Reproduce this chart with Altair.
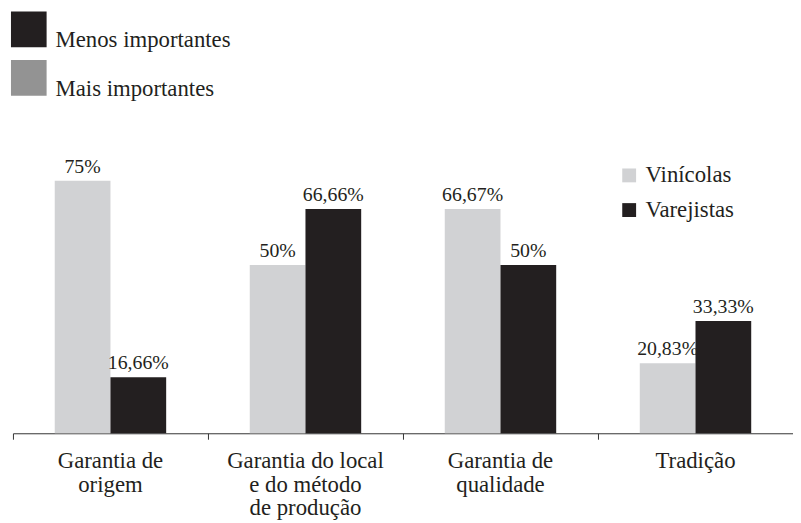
import altair as alt
import pandas as pd

categories = [
    "Garantia de\norigem",
    "Garantia do local\ne do método\nde produção",
    "Garantia de\nqualidade",
    "Tradição",
]
series = ["Vinícolas", "Varejistas"]
vinicolas = [75, 50, 66.67, 20.83]
varejistas = [16.66, 66.66, 50, 33.33]
series_colors = ["#d1d2d4", "#231f20"]

importance = ["Menos importantes", "Mais importantes"]
importance_colors = ["#231f20", "#939393"]


def fmt(v):
    return f"{v:g}".replace(".", ",") + "%"


rows = []
for c, a, b in zip(categories, vinicolas, varejistas):
    rows.append({"cat": c, "serie": series[0], "valor": a, "label": fmt(a)})
    rows.append({"cat": c, "serie": series[1], "valor": b, "label": fmt(b)})
df = pd.DataFrame(rows)
imp_df = pd.DataFrame({"imp": importance})

FONT = "Liberation Serif"
INK = "#231f20"

x_enc = alt.X(
    "cat:N",
    sort=categories,
    scale=alt.Scale(paddingInner=0, paddingOuter=0),
    axis=alt.Axis(
        title=None,
        labelAngle=0,
        bandPosition=0,
        labelExpr="split(datum.label, '\\n')",
        labelFont=FONT,
        labelFontSize=23,
        labelLineHeight=23.5,
        labelColor=INK,
        labelBaseline="top",
        labelPadding=11,
        labelLimit=400,
        labelOverlap=False,
        tickSize=6,
        tickColor="#333333",
        domainColor="#333333",
        domainWidth=1,
        tickWidth=1,
    ),
)
xo_enc = alt.XOffset(
    "serie:N", sort=series, scale=alt.Scale(paddingInner=0, paddingOuter=0.75)
)
y_enc = alt.Y("valor:Q", scale=alt.Scale(domain=[0, 100]), axis=None)

bars = (
    alt.Chart(df)
    .mark_bar()
    .encode(
        x=x_enc,
        xOffset=xo_enc,
        y=y_enc,
        color=alt.Color(
            "serie:N",
            scale=alt.Scale(domain=series, range=series_colors),
            legend=alt.Legend(
                title=None,
                orient="none",
                legendX=611,
                legendY=68,
                symbolType="square",
                symbolSize=196,
                symbolStrokeWidth=0,
                labelFont=FONT,
                labelFontSize=23,
                labelColor=INK,
                labelOffset=5,
                labelLimit=300,
                rowPadding=11,
                padding=0,
            ),
        ),
    )
)

labels = (
    alt.Chart(df)
    .mark_text(dy=-8, baseline="alphabetic", fontSize=20, font=FONT, color=INK)
    .encode(x=x_enc, xOffset=xo_enc, y=y_enc, text="label:N")
)

dummy = (
    alt.Chart(imp_df)
    .mark_square(opacity=0)
    .encode(
        color=alt.Color(
            "imp:N",
            scale=alt.Scale(domain=importance, range=importance_colors),
            legend=alt.Legend(
                title=None,
                orient="none",
                legendX=-2,
                legendY=-86,
                symbolType="square",
                symbolSize=1296,
                symbolOpacity=1,
                symbolStrokeWidth=0,
                labelFont=FONT,
                labelFontSize=23,
                labelColor=INK,
                labelBaseline="top",
                labelOffset=9,
                labelLimit=400,
                rowPadding=8,
                padding=0,
            ),
        )
    )
)

chart = (
    alt.layer(bars, labels, dummy)
    .resolve_scale(color="independent")
    .properties(
        width=788,
        height=340,
        padding={"left": 5, "top": 87, "right": 0, "bottom": 86},
        autosize=alt.AutoSizeParams(type="none"),
    )
    .configure(font=FONT)
    .configure_view(stroke="transparent", strokeWidth=0)
)

chart.save("out.html", embed_options={"renderer": "svg", "actions": False})
